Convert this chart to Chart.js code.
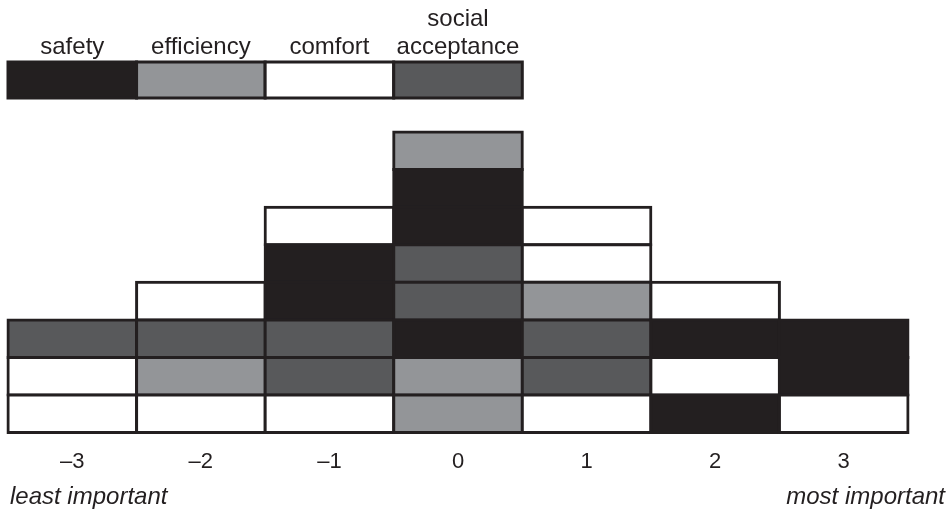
<!DOCTYPE html>
<html>
<head>
<meta charset="utf-8">
<script src="https://cdn.jsdelivr.net/npm/chart.js@4"></script>
<style>
  html, body { margin: 0; padding: 0; background: #fff; }
  #wrap { width: 952px; height: 512px; }
</style>
</head>
<body>
<div id="wrap"><canvas id="qsort"></canvas></div>
<script>
// rating scale (columns) and the four aspects
const scaleLabels = ['\u20133', '\u20132', '\u20131', '0', '1', '2', '3'];
const categories = ['safety', 'efficiency', 'comfort', 'social acceptance'];
const legendLabels = [['safety'], ['efficiency'], ['comfort'], ['social', 'acceptance']];
const catColors = {
    'safety': '#231f20',
    'efficiency': '#939598',
    'comfort': '#ffffff',
    'social acceptance': '#58595b'
};

// cells of each column, bottom to top
const colM3 = ['comfort', 'comfort', 'social acceptance'];
const colM2 = ['comfort', 'efficiency', 'social acceptance', 'comfort'];
const colM1 = ['comfort', 'social acceptance', 'social acceptance', 'safety', 'safety', 'comfort'];
const col0 = ['efficiency', 'efficiency', 'safety', 'social acceptance', 'social acceptance', 'safety', 'safety', 'efficiency'];
const colP1 = ['comfort', 'social acceptance', 'social acceptance', 'efficiency', 'comfort', 'comfort'];
const colP2 = ['safety', 'comfort', 'safety', 'comfort'];
const colP3 = ['comfort', 'safety', 'safety'];
const columns = [colM3, colM2, colM1, col0, colP1, colP2, colP3];

const ink = '#231f20';
const font = '"Liberation Sans", Arial, sans-serif';

// one dataset per stack level
const maxLevel = Math.max(...columns.map(c => c.length));
const datasets = [];
for (let lvl = 0; lvl < maxLevel; lvl++) {
    datasets.push({
        label: 'level ' + (lvl + 1),
        data: columns.map(c => (c.length > lvl ? 1 : null)),
        backgroundColor: columns.map(c => (c.length > lvl ? catColors[c[lvl]] : 'transparent')),
        borderColor: ink,
        borderWidth: 3,
        borderSkipped: false,
        inflateAmount: 1.5,
        clip: false
    });
}

// legend boxes over the first four columns + end labels under the axis
const extras = {
    id: 'extras',
    afterDraw(chart) {
        const ctx = chart.ctx;
        const x = chart.scales.x;
        const w = x.getPixelForValue(1) - x.getPixelForValue(0);
        ctx.save();
        categories.forEach((cat, i) => {
            const cx = x.getPixelForValue(i);
            const left = cx - w / 2;
            ctx.fillStyle = catColors[cat];
            ctx.fillRect(left, 62, w, 36);
            ctx.strokeStyle = ink;
            ctx.lineWidth = 3;
            ctx.strokeRect(left, 62, w, 36);
            ctx.fillStyle = ink;
            ctx.font = '24px ' + font;
            ctx.textAlign = 'center';
            ctx.textBaseline = 'alphabetic';
            const lines = legendLabels[i];
            lines.forEach((t, j) => {
                ctx.fillText(t, cx, 54 - (lines.length - 1 - j) * 28);
            });
        });
        ctx.font = 'italic 24px ' + font;
        ctx.textBaseline = 'alphabetic';
        ctx.textAlign = 'left';
        ctx.fillText('least important', 10, 504);
        ctx.textAlign = 'right';
        ctx.fillText('most important', 945, 504);
        ctx.restore();
    }
};

new Chart(document.getElementById('qsort'), {
    type: 'bar',
    data: { labels: scaleLabels, datasets: datasets },
    options: {
        responsive: true,
        maintainAspectRatio: false,
        animation: false,
        layout: { padding: { top: 132, left: 8, right: 44, bottom: 29 } },
        plugins: { legend: { display: false }, tooltip: { enabled: false } },
        datasets: { bar: { barPercentage: 1, categoryPercentage: 1 } },
        scales: {
            x: {
                stacked: true,
                grid: { display: false },
                border: { display: false },
                ticks: { color: ink, padding: 8, font: { family: font, size: 22 } }
            },
            y: {
                stacked: true,
                display: false,
                min: 0,
                max: maxLevel
            }
        }
    },
    plugins: [extras]
});
</script>
</body>
</html>
